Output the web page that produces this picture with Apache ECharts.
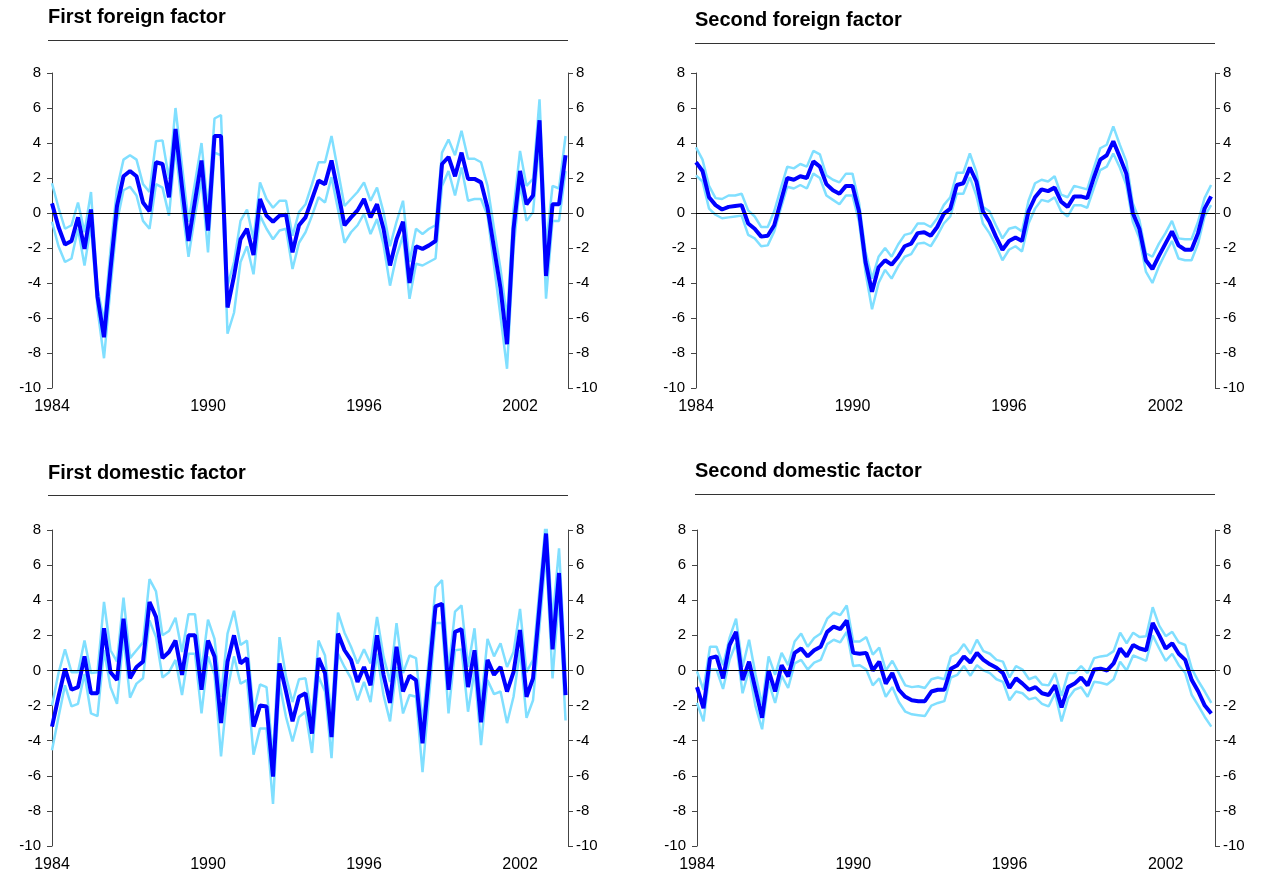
<!DOCTYPE html>
<html><head><meta charset="utf-8">
<script src="https://cdn.jsdelivr.net/npm/echarts@6/dist/echarts.min.js"></script>
<style>html,body{margin:0;padding:0;background:#fff}#c{width:1266px;height:884px}</style>
</head><body><div id="c"></div>
<script>
// ---- data (quarterly, 1984Q1 .. 2003Q4) ----
const startYear = 1984;
const xTickYears = [1984, 1990, 1996, 2002];
const yMin = -10, yMax = 8, yStep = 2;
const titles = ['First foreign factor', 'Second foreign factor', 'First domestic factor', 'Second domestic factor'];

const ff1Mid = [0.55,-0.8,-1.8,-1.6,-0.25,-2.05,0.2,-4.8,-7.1,-3.2,
0.4,2.1,2.4,2.1,0.6,0.1,2.9,2.8,0.9,4.8,
1.5,-1.6,0.7,3.0,-1.0,4.4,4.4,-5.4,-3.6,-1.5,
-0.9,-2.4,0.8,-0.15,-0.5,-0.15,-0.1,-2.25,-0.7,-0.25,
0.8,1.85,1.65,3.0,1.2,-0.7,-0.25,0.15,0.8,-0.25,
0.5,-0.9,-3.0,-1.5,-0.5,-4.0,-1.9,-2.05,-1.85,-1.6,
2.8,3.2,2.1,3.45,1.95,1.95,1.75,0.3,-2.0,-4.3,
-7.5,-0.9,2.4,0.5,1.0,5.3,-3.6,0.5,0.5,3.3];
const ff1Up = [1.7,0.3,-0.9,-0.7,0.6,-1.1,1.2,-4.3,-6.2,-2.1,
1.4,3.05,3.3,3.05,1.65,1.2,4.1,4.15,1.95,6.0,
2.7,-0.5,1.75,4.0,0.2,5.4,5.6,-4.15,-2.8,-0.45,
0.2,-1.5,1.75,0.8,0.3,0.7,0.7,-1.3,0.05,0.5,
1.65,2.9,2.9,4.4,2.4,0.4,0.8,1.2,1.75,0.7,
1.45,0.05,-1.9,-0.5,0.7,-2.8,-0.9,-1.2,-0.9,-0.7,
3.45,4.2,3.3,4.7,3.1,3.1,2.9,1.55,-0.9,-3.2,
-6.05,0.2,3.55,1.55,1.95,6.5,-1.9,1.55,1.4,4.4];
const ff1Lo = [-0.5,-1.9,-2.8,-2.6,-0.9,-3.0,-0.7,-5.5,-8.3,-4.3,
-0.5,1.3,1.5,1.0,-0.45,-0.9,1.65,1.45,-0.15,3.75,
0.4,-2.5,-0.15,1.95,-2.25,3.45,3.3,-6.9,-5.7,-2.8,
-1.9,-3.5,-0.15,-0.9,-1.5,-1.0,-0.9,-3.2,-1.7,-1.1,
-0.15,0.9,0.6,2.05,0.2,-1.7,-1.1,-0.7,-0.05,-1.2,
-0.35,-1.8,-4.15,-2.45,-1.3,-4.9,-2.9,-3.0,-2.8,-2.6,
1.55,2.4,1.0,2.6,0.7,0.8,0.8,-0.15,-3.0,-5.9,
-8.9,-2.05,1.65,-0.45,0.05,4.2,-4.9,-0.45,-0.45,2.4];

const ff2Mid = [2.9,2.4,0.9,0.45,0.2,0.35,0.4,0.45,-0.6,-0.9,
-1.35,-1.3,-0.7,0.65,2.0,1.9,2.1,2.0,2.95,2.65,
1.65,1.3,1.1,1.55,1.55,0.1,-2.8,-4.5,-3.1,-2.7,
-2.95,-2.5,-1.9,-1.75,-1.15,-1.1,-1.3,-0.8,-0.05,0.25,
1.6,1.7,2.6,1.8,0.1,-0.5,-1.35,-2.1,-1.6,-1.4,
-1.6,0.1,0.9,1.35,1.25,1.45,0.65,0.35,0.95,0.95,
0.85,2.0,3.05,3.3,4.1,3.2,2.25,0.0,-0.9,-2.7,
-3.2,-2.45,-1.75,-1.05,-1.85,-2.1,-2.1,-1.15,0.25,0.95];
const ff2Up = [3.75,3.05,1.55,0.85,0.8,1.0,1.0,1.1,0.15,-0.2,
-0.8,-0.8,0.1,1.4,2.65,2.55,2.8,2.65,3.55,3.35,
2.15,1.9,1.75,2.25,2.25,0.6,-2.2,-3.75,-2.5,-2.0,
-2.5,-1.8,-1.25,-1.15,-0.6,-0.6,-0.8,-0.3,0.45,0.9,
2.3,2.3,3.4,2.35,0.35,0.1,-0.7,-1.45,-0.9,-0.8,
-1.05,0.7,1.7,1.9,1.8,2.1,1.05,0.9,1.55,1.45,
1.35,2.55,3.7,3.9,4.95,3.9,2.95,0.55,-0.4,-2.3,
-2.5,-1.75,-1.15,-0.45,-1.45,-1.5,-1.5,-0.5,0.85,1.6];
const ff2Lo = [2.15,1.8,0.25,-0.1,-0.3,-0.25,-0.2,-0.15,-1.25,-1.45,
-1.9,-1.85,-1.05,0.25,1.5,1.4,1.6,1.4,2.25,2.0,
1.0,0.75,0.5,1.0,1.0,-0.5,-3.4,-5.5,-4.0,-3.25,
-3.75,-3.05,-2.5,-2.35,-1.75,-1.7,-1.9,-1.3,-0.6,-0.2,
1.1,1.1,2.05,1.0,-0.6,-1.15,-1.85,-2.7,-2.1,-1.9,
-2.2,-0.6,0.25,0.75,0.65,0.9,0.1,-0.2,0.45,0.45,
0.3,1.4,2.45,2.65,3.4,2.6,1.6,-0.5,-1.45,-3.35,
-4.0,-3.05,-2.3,-1.6,-2.6,-2.7,-2.7,-1.75,-0.2,0.45];

const fd1Mid = [-3.2,-1.5,0.1,-1.1,-0.95,0.8,-1.3,-1.3,2.4,-0.1,
-0.55,2.95,-0.45,0.2,0.5,3.9,3.05,0.7,1.05,1.7,
-0.25,2.0,2.0,-1.1,1.7,0.8,-3.0,0.5,2.0,0.4,
0.7,-3.2,-2.0,-2.05,-6.05,0.4,-1.2,-2.9,-1.5,-1.3,
-3.6,0.7,-0.15,-3.8,2.1,1.15,0.6,-0.65,0.2,-0.85,
2.0,-0.25,-1.85,1.35,-1.2,-0.3,-0.55,-4.15,-0.2,3.65,
3.8,-1.1,2.2,2.35,-0.95,1.15,-2.95,0.6,-0.25,0.2,
-1.2,-0.1,2.3,-1.5,-0.45,3.65,7.8,1.2,5.55,-1.4];
const fd1Up = [-2.0,-0.15,1.2,-0.1,-0.1,1.7,-0.15,-0.1,3.9,1.15,
0.5,4.15,0.7,1.15,1.6,5.2,4.5,2.0,2.25,3.0,
1.05,3.2,3.2,0.0,2.9,1.8,-1.5,2.1,3.4,1.45,
1.7,-2.35,-0.8,-0.95,-4.9,1.9,-0.35,-1.8,-0.5,-0.45,
-2.65,1.7,0.85,-2.65,3.3,2.15,1.35,0.4,1.2,0.4,
3.05,0.8,-0.65,2.7,-0.15,0.85,0.7,-3.0,0.8,4.75,
5.15,0.0,3.35,3.7,0.2,2.4,-1.9,1.8,0.8,1.55,
0.2,1.05,3.5,-0.1,0.6,4.65,8.6,2.85,6.95,0.0];
const fd1Lo = [-4.55,-2.65,-0.85,-2.05,-1.9,-0.2,-2.45,-2.6,1.15,-0.95,
-1.9,1.9,-1.55,-0.75,-0.45,2.85,1.9,-0.4,-0.1,0.6,
-1.4,0.95,0.95,-2.45,0.8,-0.25,-4.9,-1.1,0.8,-0.75,
-0.55,-4.8,-3.3,-3.3,-7.6,-0.75,-2.65,-4.05,-2.65,-2.35,
-4.7,-0.35,-1.2,-5.0,0.95,0.2,-0.45,-1.7,-0.65,-1.8,
0.95,-1.4,-2.9,0.2,-2.45,-1.4,-1.5,-5.8,-1.5,2.7,
2.7,-2.45,1.15,1.2,-2.35,0.0,-4.25,-0.55,-1.35,-1.2,
-3.0,-1.5,1.15,-2.7,-1.7,2.5,6.65,-0.45,4.3,-2.85];

const fd2Mid = [-0.95,-2.15,0.7,0.8,-0.45,1.45,2.2,-0.55,0.5,-1.1,
-2.7,0.0,-1.2,0.3,-0.35,1.0,1.25,0.8,1.15,1.35,
2.2,2.5,2.35,2.85,1.0,0.95,1.0,0.0,0.5,-0.75,
-0.15,-1.1,-1.5,-1.7,-1.75,-1.75,-1.2,-1.1,-1.1,0.1,
0.3,0.8,0.45,1.0,0.6,0.35,0.15,-0.15,-1.0,-0.45,
-0.75,-1.1,-0.95,-1.3,-1.4,-0.85,-2.1,-0.95,-0.75,-0.4,
-0.85,0.05,0.1,0.0,0.4,1.25,0.8,1.45,1.25,1.15,
2.7,2.0,1.25,1.55,0.95,0.6,-0.55,-1.2,-2.0,-2.45];
const fd2Up = [-0.05,-1.1,1.35,1.35,0.3,1.85,2.95,0.2,1.75,-0.25,
-1.95,0.8,-0.25,1.0,0.3,1.65,2.1,1.35,1.85,2.1,
2.95,3.3,3.15,3.7,1.65,1.65,1.9,0.9,1.3,0.0,
0.55,-0.15,-0.85,-0.95,-0.9,-1.0,-0.5,-0.4,-0.5,0.8,
1.0,1.5,0.95,1.75,1.1,0.95,0.6,0.5,-0.4,0.25,
0.05,-0.5,-0.35,-0.8,-0.85,-0.15,-1.45,-0.15,-0.15,0.25,
-0.15,0.7,0.8,0.85,1.1,2.15,1.55,2.15,1.9,1.95,
3.6,2.55,1.95,2.2,1.6,1.45,0.1,-0.6,-1.2,-1.85];
const fd2Lo = [-1.85,-2.9,0.05,0.05,-1.05,0.6,1.55,-1.3,0.05,-2.05,
-3.35,-0.65,-1.85,-0.3,-1.0,0.4,0.6,0.05,0.45,0.6,
1.5,1.75,1.6,2.2,0.25,0.3,0.05,-0.85,-0.45,-1.5,
-0.95,-1.8,-2.35,-2.5,-2.55,-2.6,-2.0,-1.85,-1.75,-0.4,
-0.25,0.25,-0.3,0.3,0.0,-0.15,-0.5,-0.65,-1.7,-1.2,
-1.3,-1.65,-1.55,-1.9,-2.05,-1.3,-2.9,-1.6,-1.1,-0.95,
-1.5,-0.65,-0.7,-0.8,-0.5,0.5,0.0,0.85,0.7,0.55,
2.0,1.25,0.55,0.95,0.3,-0.15,-1.4,-2.0,-2.65,-3.2];

const panels = [
  {mid: ff1Mid, up: ff1Up, lo: ff1Lo},
  {mid: ff2Mid, up: ff2Up, lo: ff2Lo},
  {mid: fd1Mid, up: fd1Up, lo: fd1Lo},
  {mid: fd2Mid, up: fd2Up, lo: fd2Lo}
];

// ---- layout ----
const FONT = '"Liberation Sans", Arial, sans-serif';
const grids = [
  {left: 52, top: 73, width: 516, height: 315, xMax: 79.38, titleX: 48, titleY: 7, ruleY: 40.5, ruleX0: 48, ruleX1: 568},
  {left: 696, top: 73, width: 519, height: 315, xMax: 79.6, titleX: 695, titleY: 10, ruleY: 43.5, ruleX0: 695, ruleX1: 1215},
  {left: 52, top: 530, width: 516, height: 316, xMax: 79.38, titleX: 48, titleY: 463, ruleY: 495.5, ruleX0: 48, ruleX1: 568},
  {left: 697, top: 530, width: 518, height: 316, xMax: 79.57, titleX: 695, titleY: 461, ruleY: 494.5, ruleX0: 695, ruleX1: 1215}
];
const DARK = '#0000ff', LIGHT = '#80dfff', AXIS = '#444';

const pairs = arr => arr.map((v, i) => [i, v]);
const option = {
  animation: false,
  backgroundColor: '#fff',
  title: grids.map((g, k) => ({
    text: titles[k], left: g.titleX, top: g.titleY, padding: 0,
    textStyle: {fontFamily: FONT, fontSize: 20, fontWeight: 'bold', color: '#000'}
  })),
  graphic: grids.map(g => ({
    type: 'line', silent: true,
    shape: {x1: g.ruleX0, y1: g.ruleY, x2: g.ruleX1, y2: g.ruleY},
    style: {stroke: '#333', lineWidth: 1}
  })),
  grid: grids.map(g => ({left: g.left, top: g.top, width: g.width, height: g.height, containLabel: false})),
  xAxis: grids.map((g, k) => ({
    type: 'value', gridIndex: k, min: 0, max: g.xMax, interval: 24,
    axisLine: {show: false}, axisTick: {show: false}, splitLine: {show: false},
    axisLabel: {
      margin: 11, fontFamily: FONT, fontSize: 16, color: '#000',
      formatter: v => (v % 4 === 0 && xTickYears.indexOf(startYear + v / 4) >= 0) ? String(startYear + v / 4) : ''
    }
  })),
  yAxis: [],
  series: []
};
grids.forEach((g, k) => {
  ['left', 'right'].forEach(pos => {
    option.yAxis.push({
      type: 'value', gridIndex: k, position: pos, min: yMin, max: yMax, interval: yStep,
      axisLine: {show: true, lineStyle: {color: AXIS, width: 1}},
      axisTick: {show: true, length: 5, lineStyle: {color: AXIS}},
      splitLine: {show: false},
      axisLabel: {margin: pos === 'left' ? 11 : 8, fontFamily: FONT, fontSize: 15, color: '#000'}
    });
  });
  const p = panels[k];
  const base = {type: 'line', xAxisIndex: k, yAxisIndex: 2 * k, symbol: 'none', smooth: false, silent: true};
  option.series.push(Object.assign({}, base, {
    data: pairs(p.up), lineStyle: {color: LIGHT, width: 2.5}, z: 2,
    markLine: {silent: true, symbol: 'none', label: {show: false},
      lineStyle: {color: '#000', width: 1, type: 'solid'}, data: [{yAxis: 0}]}
  }));
  option.series.push(Object.assign({}, base, {data: pairs(p.lo), lineStyle: {color: LIGHT, width: 2.5}, z: 2}));
  option.series.push(Object.assign({}, base, {data: pairs(p.mid), lineStyle: {color: DARK, width: 4}, z: 3}));
});
const chart = echarts.init(document.getElementById('c'), null, {renderer: 'canvas'});
chart.setOption(option);
</script>
</body></html>
